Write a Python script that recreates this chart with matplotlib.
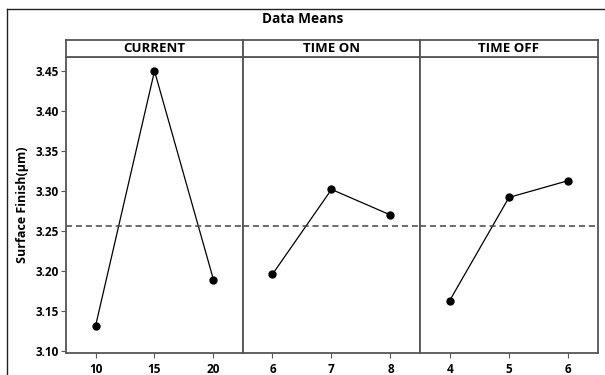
import numpy as np
import matplotlib.pyplot as plt
from matplotlib.lines import Line2D

plt.rcParams['font.family'] = ['Open Sans', 'DejaVu Sans']
plt.rcParams['font.weight'] = 'bold'

factors = ["CURRENT", "TIME ON", "TIME OFF"]
levels = [["10", "15", "20"], ["6", "7", "8"], ["4", "5", "6"]]
means = [[3.131, 3.450, 3.189],
         [3.196, 3.302, 3.270],
         [3.163, 3.292, 3.313]]
grand_mean = 3.2565
yticks = [3.10, 3.15, 3.20, 3.25, 3.30, 3.35, 3.40, 3.45]

W, H = 605, 375
fig = plt.figure(figsize=(W/100, H/100), dpi=100)

# outer frame (cut off on the right and bottom like the source)
fig.add_artist(Line2D([7/W, 7/W], [0, 1-9/H], color='#222222', lw=1.0))
fig.add_artist(Line2D([7/W, 1], [1-9/H, 1-9/H], color='#222222', lw=1.0))

fig.text(0.5, 1-19/H, "Data Means", ha='center', va='center', fontsize=9.8, fontweight='bold')

edges = [66, 243, 420, 598]
top, bot, strip_top = 57, 353, 40
gray = '#555555'
for i in range(3):
    x0, x1 = edges[i], edges[i+1]
    ax = fig.add_axes([x0/W, 1-bot/H, (x1-x0)/W, (bot-top)/H])
    xs = np.arange(1, 4)
    ax.plot(xs, means[i], color='black', lw=0.9, marker='o', markersize=5)
    ax.axhline(grand_mean, color='#444444', lw=1.1, ls=(0, (4, 2.5)))
    ax.set_xlim(0.5, 3.5)
    ax.set_ylim(3.0975, 3.4675)
    ax.set_xticks(xs)
    ax.set_xticklabels(levels[i], fontsize=8.5, fontweight='bold')
    ax.set_yticks(yticks)
    if i == 0:
        ax.set_yticklabels(["%.2f" % v for v in yticks], fontsize=8.5, fontweight='bold')
        ax.set_ylabel("Surface Finish(µm)", fontsize=9, fontweight='bold', labelpad=5)
    else:
        ax.tick_params(axis='y', left=False, labelleft=False)
    ax.tick_params(length=3.5, width=0.8, color=gray)
    ax.tick_params(axis='x', pad=4)
    ax.tick_params(axis='y', pad=1.5)
    for s in ax.spines.values():
        s.set_color(gray)
        s.set_linewidth(1.3)

    sax = fig.add_axes([x0/W, 1-top/H, (x1-x0)/W, (top-strip_top)/H])
    sax.set_xticks([])
    sax.set_yticks([])
    for s in sax.spines.values():
        s.set_color(gray)
        s.set_linewidth(1.3)
    sax.text(0.5, 0.5, factors[i], ha='center', va='center', fontsize=9.5,
             fontweight='bold', transform=sax.transAxes)

fig.savefig("out.png", dpi=100)
